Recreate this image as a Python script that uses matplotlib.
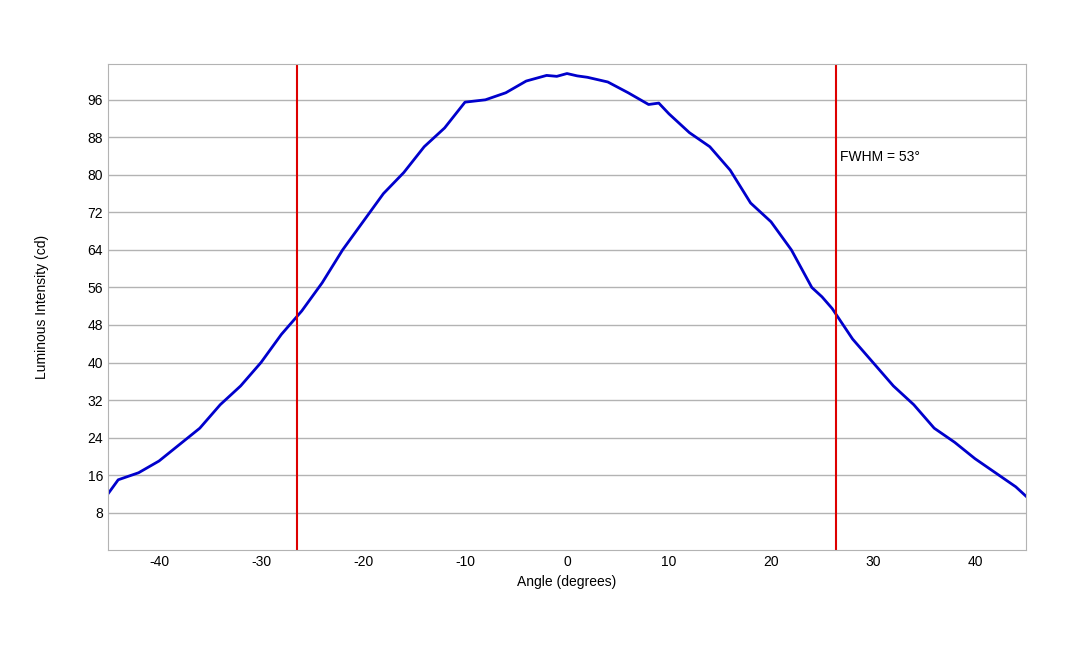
import numpy as np
import matplotlib.pyplot as plt

plt.rcParams['font.family'] = ['Liberation Sans', 'DejaVu Sans']
plt.rcParams['axes.unicode_minus'] = False

angle = [-45, -44, -42, -40, -38, -36, -34, -32, -30, -28, -26, -24, -22, -20,
         -18, -16, -14, -12, -10, -8, -6, -4, -2, -1, 0, 1, 2, 4, 6, 8, 9, 10,
         12, 14, 16, 18, 20, 22, 24, 25, 26, 28, 30, 32, 34, 36, 38, 40, 42, 44, 45]
intensity = [12, 15, 16.5, 19, 22.5, 26, 31, 35, 40, 46, 51, 57, 64, 70,
             76, 80.5, 86, 90, 95.5, 96, 97.5, 100, 101.2, 101, 101.6, 101.1, 100.8, 99.8, 97.5, 95, 95.3, 93,
             89, 86, 81, 74, 70, 64, 56, 54, 51.5, 45, 40, 35, 31, 26, 23, 19.5, 16.5, 13.5, 11.5]
fwhm_edges = [-26.5, 26.4]
y_ticks = [8, 16, 24, 32, 40, 48, 56, 64, 72, 80, 88, 96]
x_ticks = [-40, -30, -20, -10, 0, 10, 20, 30, 40]

fig = plt.figure(figsize=(10.8, 6.48), dpi=100)
ax = fig.add_axes([0.1, 0.151, 0.85, 0.75])

ax.plot(angle, intensity, color='#0000cc', lw=2)
for e in fwhm_edges:
  ax.axvline(e, color='#dd0000', lw=1.5)
ax.text(26.8, 83.8, 'FWHM = 53°', fontsize=10, va='center')

ax.set_xlim(-45, 45)
ax.set_ylim(0, 103.6)
ax.set_xticks(x_ticks)
ax.set_yticks(y_ticks)
ax.tick_params(length=0, labelsize=10)
ax.grid(axis='y', color='#b3b3b3', lw=1)
ax.set_axisbelow(True)
for s in ax.spines.values():
  s.set_color('#b3b3b3')
ax.set_xlabel('Angle (degrees)', fontsize=10)
ax.set_ylabel('Luminous Intensity (cd)', fontsize=10, labelpad=28)

fig.savefig('out.png')
